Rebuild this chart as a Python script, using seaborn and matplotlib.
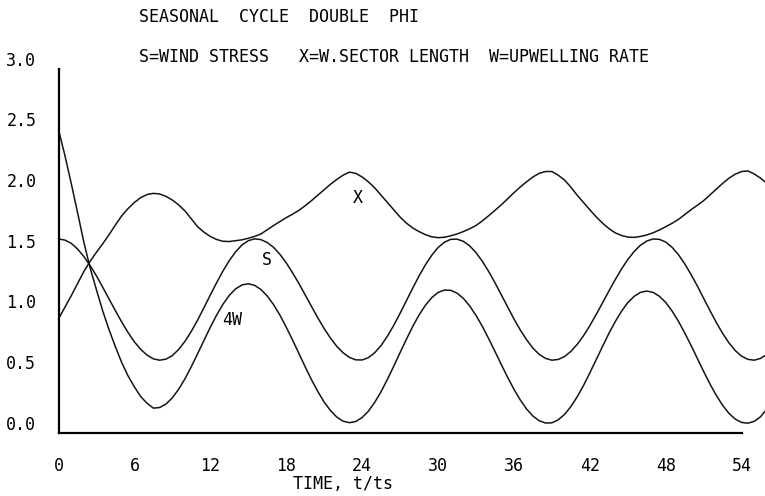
import numpy as np
import pandas as pd
import seaborn as sns
import matplotlib.pyplot as plt
from matplotlib.transforms import ScaledTranslation

# time samples t/ts every half unit
time = [i * 0.5 for i in range(112)] + [55.85]

# X = western sector length
sector_x = [0.94, 1.035, 1.13, 1.23, 1.33, 1.415, 1.49, 1.56, 1.635, 1.715,
            1.79, 1.85, 1.90, 1.94, 1.965, 1.975, 1.97, 1.95, 1.92, 1.88,
            1.83, 1.765, 1.70, 1.655, 1.62, 1.595, 1.58, 1.578, 1.585, 1.592,
            1.605, 1.62, 1.64, 1.675, 1.71, 1.742, 1.775, 1.803, 1.835, 1.873,
            1.915, 1.96, 2.005, 2.05, 2.09, 2.125, 2.15, 2.14, 2.11, 2.07,
            2.02, 1.96, 1.90, 1.84, 1.78, 1.73, 1.69, 1.66, 1.635, 1.617,
            1.61, 1.613, 1.625, 1.64, 1.66, 1.683, 1.71, 1.748, 1.79, 1.835,
            1.88, 1.93, 1.98, 2.027, 2.07, 2.11, 2.14, 2.155, 2.155, 2.125,
            2.085, 2.027, 1.96, 1.90, 1.84, 1.782, 1.73, 1.686, 1.65, 1.628,
            1.615, 1.612, 1.62, 1.632, 1.65, 1.673, 1.70, 1.728, 1.76, 1.80,
            1.84, 1.877, 1.915, 1.962, 2.01, 2.057, 2.10, 2.133, 2.155, 2.16,
            2.135, 2.10, 2.07]

# S = wind stress
stress_s = [1.60, 1.59, 1.564, 1.517, 1.455, 1.38, 1.295, 1.201, 1.104, 1.008,
            0.914, 0.828, 0.751, 0.689, 0.642, 0.611, 0.60, 0.609, 0.638, 0.689,
            0.756, 0.838, 0.931, 1.033, 1.137, 1.239, 1.335, 1.421, 1.493, 1.549,
            1.585, 1.60, 1.594, 1.57, 1.53, 1.473, 1.403, 1.321, 1.233, 1.138,
            1.043, 0.949, 0.861, 0.782, 0.714, 0.661, 0.623, 0.603, 0.602, 0.621,
            0.662, 0.721, 0.798, 0.887, 0.986, 1.09, 1.194, 1.294, 1.385, 1.464,
            1.528, 1.572, 1.596, 1.598, 1.58, 1.543, 1.487, 1.416, 1.332, 1.239,
            1.14, 1.04, 0.941, 0.85, 0.769, 0.70, 0.648, 0.615, 0.60, 0.606,
            0.63, 0.672, 0.73, 0.801, 0.884, 0.976, 1.071, 1.168, 1.262, 1.35,
            1.429, 1.495, 1.547, 1.582, 1.599, 1.596, 1.574, 1.531, 1.471, 1.395,
            1.307, 1.212, 1.11, 1.009, 0.911, 0.821, 0.743, 0.679, 0.633, 0.607,
            0.60, 0.615, 0.638]

# 4W = four times upwelling rate
upwell_4w = [2.50, 2.29, 2.06, 1.82, 1.575, 1.36, 1.18, 1.005, 0.85, 0.71,
             0.58, 0.47, 0.38, 0.30, 0.245, 0.205, 0.21, 0.239, 0.29, 0.361,
             0.447, 0.547, 0.654, 0.763, 0.871, 0.972, 1.061, 1.134, 1.188, 1.22,
             1.23, 1.217, 1.183, 1.129, 1.058, 0.972, 0.873, 0.767, 0.656, 0.546,
             0.439, 0.342, 0.255, 0.185, 0.131, 0.097, 0.085, 0.095, 0.127, 0.18,
             0.253, 0.341, 0.442, 0.55, 0.662, 0.772, 0.878, 0.972, 1.052, 1.115,
             1.158, 1.178, 1.176, 1.153, 1.11, 1.048, 0.97, 0.88, 0.779, 0.673,
             0.565, 0.46, 0.361, 0.273, 0.198, 0.14, 0.101, 0.082, 0.084, 0.108,
             0.153, 0.217, 0.298, 0.391, 0.495, 0.603, 0.712, 0.819, 0.916, 1.002,
             1.074, 1.126, 1.159, 1.17, 1.159, 1.127, 1.076, 1.006, 0.922, 0.826,
             0.722, 0.615, 0.507, 0.404, 0.31, 0.228, 0.162, 0.114, 0.087, 0.081,
             0.096, 0.134, 0.179]

x_ticks = [0, 6, 12, 18, 24, 30, 36, 42, 48, 54]
y_ticks = [0.0, 0.5, 1.0, 1.5, 2.0, 2.5, 3.0]
y_ticklabels = ['0.0', '0.5', '1.0', '1.5', '2.0', '2.5', '3.0']

curve_labels = ['X', 'S', '4W']
label_t = [23.7, 16.45, 13.7]
label_v = [1.935, 1.426, 0.93]

sns.set_style('white')
plt.rcParams['font.family'] = ['DejaVu Sans Mono']
plt.rcParams['text.color'] = 'black'

df = pd.DataFrame({'t': time, 'X': sector_x, 'S': stress_s, '4W': upwell_4w})

fig = plt.figure(figsize=(7.65, 4.96), dpi=100)
ax = fig.add_axes([58.5 / 765, 63 / 496, (765 - 58.5) / 765, 364 / 496])

for col in ['X', 'S', '4W']:
    sns.lineplot(data=df, x='t', y=col, ax=ax, color='#141414', linewidth=1.1,
                 estimator=None, sort=False, clip_on=False)

ax.set_xlim(0, 55.85)
ax.set_ylim(0, 3.0)

for sp in ['top', 'right']:
    ax.spines[sp].set_visible(False)
ax.spines['left'].set_bounds(0, 3.0)
ax.spines['bottom'].set_bounds(0, 54)
for sp in ['left', 'bottom']:
    ax.spines[sp].set_linewidth(1.6)
    ax.spines[sp].set_color('black')

ax.set_xticks(x_ticks)
ax.set_xticklabels([str(v) for v in x_ticks])
ax.set_yticks(y_ticks)
ax.set_yticklabels(y_ticklabels)
ax.tick_params(axis='both', direction='in', length=4, width=1.3, colors='black',
               labelsize=12, labelcolor='black')
ax.tick_params(axis='x', pad=17)
ax.tick_params(axis='y', pad=16)

# y labels sit a bit above their ticks on the original plot
for lab in ax.get_yticklabels():
    lab.set_transform(lab.get_transform() + ScaledTranslation(0, 0.105, fig.dpi_scale_trans))

ax.set_xlabel('TIME, t/ts', fontsize=12, va='center', color='black')
ax.xaxis.set_label_coords(0.403, -0.140)
ax.set_ylabel('')

for name, lt, lv in zip(curve_labels, label_t, label_v):
    ax.text(lt, lv, name, fontsize=12, ha='center', va='center', color='black')

fig.text(139 / 765, 1 - 16.7 / 496, 'SEASONAL  CYCLE  DOUBLE  PHI',
         fontsize=12, ha='left', va='center')
fig.text(139 / 765, 1 - 57.5 / 496, 'S=WIND STRESS   X=W.SECTOR LENGTH  W=UPWELLING RATE',
         fontsize=12, ha='left', va='center')

fig.savefig('out.png', dpi=100, facecolor='white')
